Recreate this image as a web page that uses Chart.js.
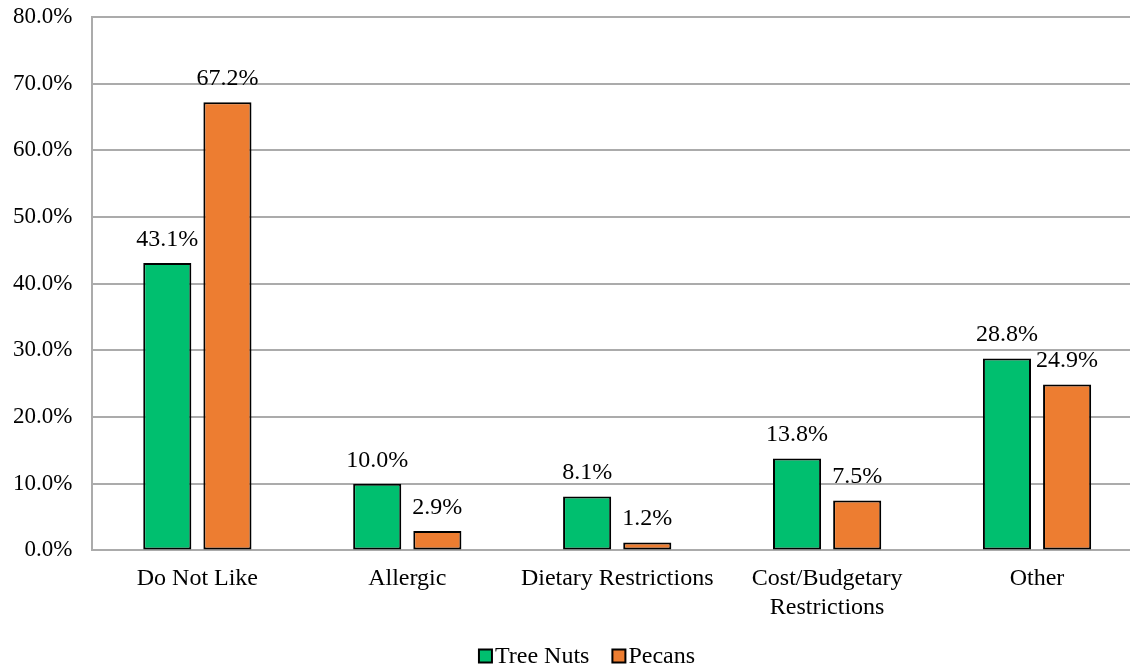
<!DOCTYPE html>
<html>
<head>
<meta charset="utf-8">
<script src="https://cdn.jsdelivr.net/npm/chart.js@4/dist/chart.umd.min.js"></script>
<style>
  html, body { margin: 0; padding: 0; background: #fff; overflow: hidden; }
  /* the plot runs past the right edge of the page */
  #wrap { width: 1142px; height: 668px; }
</style>
</head>
<body>
<div id="wrap"><canvas id="chart"></canvas></div>
<script>
// Reasons for not eating tree nuts / pecans (% of respondents)
const categories = ['Do Not Like', 'Allergic', 'Dietary Restrictions', ['Cost/Budgetary', 'Restrictions'], 'Other'];
const treeNuts = [43.1, 10.0, 8.1, 13.8, 28.8];
const pecans = [67.2, 2.9, 1.2, 7.5, 24.9];
const yTicks = [0, 10, 20, 30, 40, 50, 60, 70, 80];

const FONT = "'Liberation Serif', 'Times New Roman', serif";
const GRID = '#ababab';

// draws the value above each bar
const valueLabels = {
    id: 'valueLabels',
    afterDatasetsDraw(chart) {
        const ctx = chart.ctx;
        ctx.save();
        ctx.font = '24px ' + FONT;
        ctx.fillStyle = '#000';
        ctx.textAlign = 'center';
        ctx.textBaseline = 'alphabetic';
        chart.data.datasets.forEach((ds, i) => {
            chart.getDatasetMeta(i).data.forEach((bar, j) => {
                ctx.fillText(ds.data[j].toFixed(1) + '%', bar.x, bar.y - 17);
            });
        });
        ctx.restore();
    }
};

// legend with a tight box/text gap, drawn under the axis labels
const bottomLegend = {
    id: 'bottomLegend',
    afterDraw(chart) {
        const ctx = chart.ctx;
        const box = 13, gap = 3, spacing = 23;
        const cx = 587, cy = 656;
        ctx.save();
        ctx.font = '24px ' + FONT;
        ctx.textBaseline = 'middle';
        ctx.textAlign = 'left';
        const items = chart.data.datasets.map(ds => ({
            text: ds.label, fill: ds.backgroundColor, w: ctx.measureText(ds.label).width
        }));
        const total = items.reduce((s, it) => s + box + gap + it.w, 0) + spacing * (items.length - 1);
        let x = cx - total / 2;
        items.forEach(it => {
            ctx.fillStyle = it.fill;
            ctx.strokeStyle = '#000';
            ctx.lineWidth = 2;
            ctx.fillRect(x, cy - box / 2, box, box);
            ctx.strokeRect(x, cy - box / 2, box, box);
            ctx.fillStyle = '#000';
            ctx.fillText(it.text, x + box + gap, cy + 1);
            x += box + gap + it.w + spacing;
        });
        ctx.restore();
    }
};

const ctx = document.getElementById('chart').getContext('2d');
new Chart(ctx, {
    type: 'bar',
    data: {
        labels: categories,
        datasets: [{
            label: 'Tree Nuts',
            data: treeNuts,
            backgroundColor: '#00BF6F',
            borderColor: '#000',
            borderWidth: 2,
            borderSkipped: false,
            barPercentage: 0.8,
            categoryPercentage: 0.573
        }, {
            label: 'Pecans',
            data: pecans,
            backgroundColor: '#ED7D31',
            borderColor: '#000',
            borderWidth: 2,
            borderSkipped: false,
            barPercentage: 0.8,
            categoryPercentage: 0.573
        }]
    },
    options: {
        responsive: true,
        maintainAspectRatio: false,
        animation: false,
        layout: { padding: { left: -7, right: 0, top: 17, bottom: 32 } },
        scales: {
            y: {
                min: 0,
                max: 80,
                afterBuildTicks(axis) {
                    axis.ticks = yTicks.map(v => ({ value: v }));
                },
                afterFit(axis) {
                    axis.paddingTop = 0;
                },
                ticks: {
                    font: { family: FONT, size: 23 },
                    color: '#000',
                    padding: 20,
                    callback: v => v.toFixed(1) + '%'
                },
                grid: { color: GRID, lineWidth: 2, drawTicks: false },
                border: { color: GRID, width: 2 }
            },
            x: {
                afterFit(axis) {
                    axis.paddingLeft = 0;
                    axis.paddingRight = 0;
                },
                ticks: {
                    font: { family: FONT, size: 24, lineHeight: 1.2 },
                    color: '#000',
                    padding: 14,
                    maxRotation: 0,
                    autoSkip: false
                },
                grid: { display: false, drawTicks: false },
                border: { color: GRID, width: 2 }
            }
        },
        plugins: {
            legend: { display: false },
            tooltip: { enabled: false }
        }
    },
    plugins: [valueLabels, bottomLegend]
});
</script>
</body>
</html>
